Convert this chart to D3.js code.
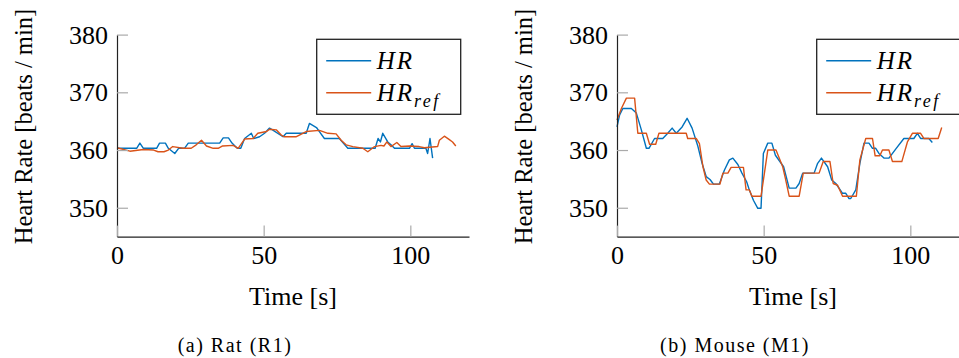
<!DOCTYPE html>
<meta charset="utf-8">
<style>
  body { margin: 0; background: #fff; }
</style>
<svg width="959" height="358" font-family="'Times New Roman', 'Liberation Serif', Tinos, serif"></svg>
<script src="https://d3js.org/d3.v7.min.js"></script>
<script>

// Rat (R1)
var ratHrT   = [0, 6.7, 7.8, 9, 13.5, 14.5, 16.5, 17.5, 19.7, 21, 23, 24.3, 35, 36.2, 38, 39.2, 41, 42.2, 43.5, 45.8, 46.6, 48.6, 50.3, 52, 53, 56.6, 57.7, 64.5, 65.6, 68, 69, 70.7, 75.8, 78.7, 88, 89, 89.8, 90.6, 92.3, 93.4, 94.6, 99.7, 100.6, 101.4, 105.3, 105.9, 106.7, 107.6];
var ratHrV   = [360.3, 360.3, 361.2, 360.3, 360.3, 361.2, 361.2, 360.3, 359.4, 360.3, 360.3, 361.2, 361.2, 362.1, 362.1, 361.2, 360.3, 360.3, 362, 362.9, 362, 362.3, 362.9, 363.8, 363.5, 362.3, 362.9, 362.9, 364.6, 363.9, 363.2, 362, 362, 360.3, 360.3, 362, 361.4, 362.9, 361.4, 360.9, 360.3, 360.3, 361.1, 360.3, 360.3, 359.4, 362, 358.6];
var ratRefT  = [0, 4.4, 9, 12.5, 14, 16, 17.5, 19, 22.5, 25.3, 27, 28.8, 30.5, 32.8, 34.5, 36, 39.6, 41.3, 43.5, 46.4, 48, 51, 52, 54.3, 56, 57, 61, 64.5, 69, 71.9, 74.7, 76.4, 78.1, 80.4, 83.8, 85.5, 87.8, 90, 91, 92, 93.4, 95.4, 96.8, 99.7, 103, 104.8, 109.3, 109.9, 111.6, 113.3, 114.4, 115.5];
var ratRefV  = [360.4, 359.8, 360.1, 360, 359.7, 359.7, 360, 360.6, 360.3, 360.3, 360.9, 361.7, 360.7, 360.3, 360.3, 360.7, 360.8, 360.3, 361.9, 362, 362.9, 363.2, 363.6, 363.5, 362.6, 362.3, 362.3, 363.2, 363.4, 362.9, 362.8, 361.7, 360.9, 360.6, 360.3, 359.7, 360.6, 360.8, 360.7, 361.4, 360.6, 361.3, 360.6, 360.7, 360.6, 360.4, 360.6, 361.7, 362.4, 361.8, 361.4, 360.7];

// Mouse (M1)
var mouseHrT  = [0, 0.9, 2, 4.9, 6.6, 8.3, 10, 10.9, 12.8, 15.6, 17.3, 18.8, 20.2, 22.2, 23.9, 25.6, 27.6, 29, 30.4, 31.7, 32.9, 34.9, 36.6, 38.3, 39.5, 41.2, 42.6, 44.2, 45.1, 46.5, 48, 49.1, 49.9, 51.4, 52.8, 54, 56.8, 58.7, 61, 62.1, 63.3, 67.2, 68.4, 69.7, 71.8, 73.2, 74.6, 76.9, 78, 79.1, 79.7, 81.4, 82.8, 84.2, 85.9, 87.1, 88.2, 89.3, 91, 92.7, 95.2, 97.8, 101.2, 102.4, 103.5, 106.3, 107.5];
var mouseHrV  = [364, 366.1, 367.2, 367.2, 366.4, 363.5, 360.3, 360.3, 362, 362, 362.9, 363.8, 362.9, 364, 365.5, 363.8, 360.6, 357.7, 355.4, 354.9, 354.1, 354.1, 356.5, 358.3, 358.6, 357.5, 356, 354.5, 353.1, 351.3, 349.9, 349.9, 359.4, 361.2, 361.2, 359.1, 357.1, 353.4, 353.4, 354.2, 356, 356, 357.7, 358.6, 357.1, 354.8, 354.2, 352.5, 352.5, 351.6, 351.6, 353.1, 357.7, 361.2, 361.2, 360.3, 360.3, 359.4, 358.6, 358.6, 360.3, 362, 362, 362.9, 362, 362, 361.3];
var mouseRefT = [0, 1.5, 3.2, 6, 7.1, 10, 11.1, 13.2, 14.3, 23.6, 24.1, 27, 28.1, 29.3, 30.4, 31.5, 35.1, 36.1, 37.8, 38.9, 43.1, 44, 45.1, 46, 49.1, 51.4, 54.2, 56.5, 57.4, 58.7, 62.1, 63.5, 68.9, 70.3, 72.6, 73.7, 75.2, 76.9, 81.6, 82.8, 84.8, 87.1, 88, 89.6, 90.5, 92.7, 93.9, 97.1, 99, 100.7, 103.5, 104.6, 109.5, 110.7];
var mouseRefV = [365.2, 367.2, 369, 369, 362.9, 362.9, 361, 361, 362.9, 362.9, 362, 362, 361.1, 357.1, 354.8, 354.1, 354.1, 356, 356, 357, 357, 353.1, 353.1, 352, 352, 360, 360, 357.1, 355.1, 352, 352, 356, 356, 358, 358, 354.2, 353.9, 352, 352, 358.3, 362, 362, 359, 359, 360, 360, 358, 358, 361.4, 362.9, 362.9, 362, 362, 363.9];

var xTicks = [0, 50, 100];
var yTicks = [350, 360, 370, 380];
var seriesNames = ["HR", "HR_ref"];
var colors = ["#0072BD", "#D95319"];

var panels = [
  { left: 117, caption: "(a) Rat (R1)", lines: [[ratHrT, ratHrV], [ratRefT, ratRefV]] },
  { left: 617, caption: "(b) Mouse (M1)", lines: [[mouseHrT, mouseHrV], [mouseRefT, mouseRefV]] }
];

var svg = d3.select("svg");
var plotTop = 34.6, height = 202, width = 352;

panels.forEach(function(p) {
  var g = svg.append("g").attr("transform", "translate(" + p.left + "," + plotTop + ")");

  var x = d3.scaleLinear().domain([0, 120]).range([0, width]);
  var y = d3.scaleLinear().domain([345, 380]).range([height, 0]);

  var line = d3.line()
      .x(function(d) { return x(d[0]); })
      .y(function(d) { return y(d[1]); });

  p.lines.forEach(function(s, i) {
    var pts = d3.zip(s[0], s[1]);
    g.append("path")
        .datum(pts)
        .attr("fill", "none")
        .attr("stroke", colors[i])
        .attr("stroke-width", 1.4)
        .attr("stroke-linejoin", "round")
        .attr("d", line);
  });

  var yAxis = g.append("g")
      .call(d3.axisLeft(y).tickValues(yTicks).tickSizeInner(-11).tickSizeOuter(0).tickPadding(9));
  var xAxis = g.append("g")
      .attr("transform", "translate(0," + height + ")")
      .call(d3.axisBottom(x).tickValues(xTicks).tickSizeInner(-11).tickSizeOuter(0).tickPadding(9));

  [yAxis, xAxis].forEach(function(a) {
    a.attr("font-family", null).attr("font-size", 26);
    a.select(".domain").attr("stroke", "#222").attr("stroke-width", 1.2);
    a.selectAll(".tick line").attr("stroke", "#aaa").attr("stroke-width", 1.2);
    a.selectAll(".tick text").attr("fill", "#000");
  });
  yAxis.selectAll(".tick text").attr("dy", "0.33em");
  xAxis.selectAll(".tick text").attr("dy", "0.72em");

  // axis labels
  g.append("text")
      .attr("transform", "translate(" + (-85) + "," + 92 + ") rotate(-90)")
      .attr("text-anchor", "middle")
      .attr("font-size", 24.5)
      .attr("fill", "#000")
      .text("Heart Rate [beats / min]");
  g.append("text")
      .attr("x", width / 2)
      .attr("y", 270)
      .attr("text-anchor", "middle")
      .attr("font-size", 26)
      .attr("fill", "#000")
      .text("Time [s]");

  // legend
  var lg = g.append("g").attr("transform", "translate(" + (316.7 - 117) + "," + (39.3 - plotTop) + ")");
  lg.append("rect")
      .attr("width", 144).attr("height", 75)
      .attr("fill", "#fff").attr("stroke", "#222").attr("stroke-width", 1.3);
  seriesNames.forEach(function(name, i) {
    var ly = 21.4 + i * 32;
    lg.append("line")
        .attr("x1", 9.5).attr("x2", 54.5)
        .attr("y1", ly).attr("y2", ly)
        .attr("stroke", colors[i]).attr("stroke-width", 1.4);
    var t = lg.append("text")
        .attr("x", 60).attr("y", ly + 8)
        .attr("font-size", 25)
        .attr("font-style", "italic")
        .attr("letter-spacing", 2)
        .attr("fill", "#000");
    var parts = name.split("_");
    t.append("tspan").text(parts[0]);
    if (parts[1]) {
      t.append("tspan").attr("font-size", 18).attr("dy", 6).attr("letter-spacing", 2.5).text(parts[1]);
    }
  });

  // caption
  svg.append("text")
      .attr("x", p.left + 118)
      .attr("y", 352)
      .attr("text-anchor", "middle")
      .attr("font-size", 20)
      .attr("letter-spacing", 1.5)
      .attr("fill", "#000")
      .text(p.caption);
});

</script>
